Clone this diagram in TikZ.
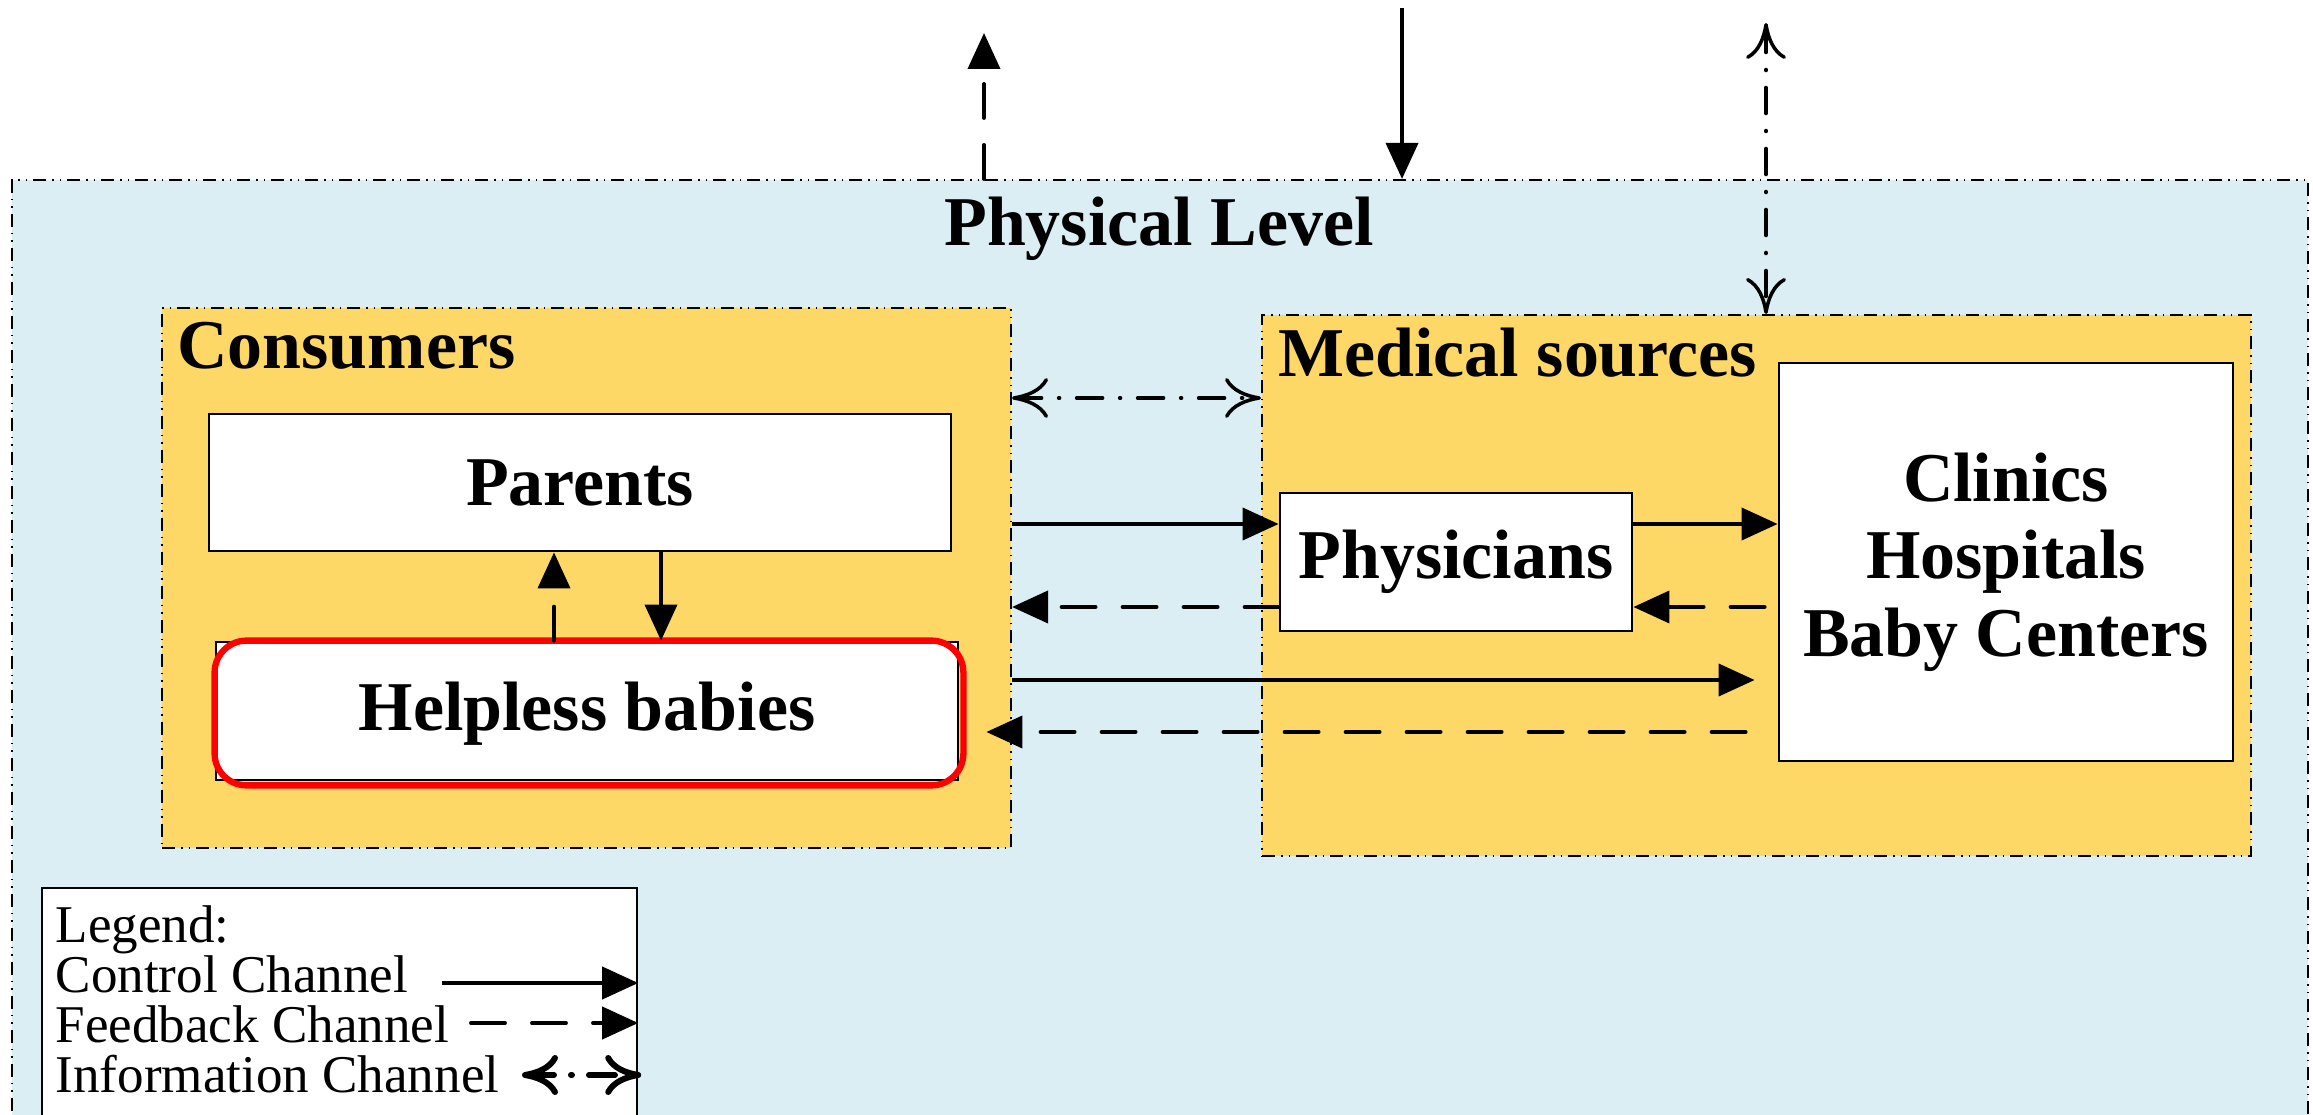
\documentclass[tikz,border=0pt]{standalone}
\usepackage{fontspec}
\setmainfont{Liberation Serif}
\usepackage{tikz}
\usetikzlibrary{arrows.meta,positioning,calc}

\definecolor{physblue}{RGB}{219,238,244}
\definecolor{groupgold}{RGB}{253,216,102}

\newcommand{\bigbold}{\fontsize{19.9pt}{20.5pt}\selectfont\bfseries}
\newcommand{\legendfont}{\fontsize{15.1pt}{14.2pt}\selectfont}

\tikzset{
  dashdotdot/.style={dash pattern=on 0.13cm off 0.06cm on 0.015cm off 0.06cm on 0.015cm off 0.06cm},
  levelbox/.style={draw, fill=physblue, line width=0.6pt, dashdotdot, inner sep=0pt},
  groupbox/.style={draw, fill=groupgold, line width=0.6pt, dashdotdot, inner sep=0pt},
  actor/.style={draw, fill=white, line width=0.8pt, inner sep=0pt, font=\bigbold},
  ctrl/.style={line width=1.1pt, -{Triangle[length=0.36cm,width=0.32cm]}},
  fback/.style={ctrl, line cap=round, dash pattern=on 0.34cm off 0.27cm},
  infoch/.style={line width=1pt, line cap=round, dash pattern=on 0.26cm off 0.17cm on 0.01cm off 0.17cm,
    {Computer Modern Rightarrow[length=0.36cm,width=0.4cm]}-{Computer Modern Rightarrow[length=0.36cm,width=0.4cm]}},
}

\begin{document}
\begin{tikzpicture}

\useasboundingbox (0,0) rectangle (23.13,11.14);

% levels and groups
\node[levelbox, minimum width=22.96cm, minimum height=9.84cm] (physical) at (11.60,4.42) {};
\node[font=\bigbold, anchor=base] (physlabel) at (11.59,8.68) {Physical Level};

\node[groupbox, minimum width=8.49cm, minimum height=5.40cm] (consumers) at (5.865,5.36) {};
\node[font=\bigbold, anchor=base west] (conslabel) at (1.65,7.45) {Consumers};

\node[groupbox, minimum width=9.89cm, minimum height=5.41cm] (medical) at (17.565,5.285) {};
\node[font=\bigbold, anchor=base west] (medlabel) at (12.66,7.37) {Medical sources};

% actors
\node[actor, minimum width=7.42cm, minimum height=1.37cm] (parents) at (5.80,6.315) {Parents};
\node[actor, minimum width=7.42cm, minimum height=1.38cm, text depth=0.1cm] (babies) at (5.87,4.03) {Helpless babies};
\draw[red, line width=1.8pt, rounded corners=0.32cm] ([yshift=-0.4mm]babies.south west) rectangle ([xshift=0.4mm]babies.north east);

\node[actor, minimum width=3.52cm, minimum height=1.38cm] (physicians) at (14.56,5.52) {Physicians};
\node[actor, minimum width=4.54cm, minimum height=3.98cm, align=center] (clinics) at (20.06,5.52) {Clinics\\[1.5pt]Hospitals\\[1.5pt]Baby Centers};

% rows of the channels
\coordinate (rowInfo) at (11,7.16);
\coordinate (rowCtrl) at (11,5.90);
\coordinate (rowFb) at (11,5.07);
\coordinate (rowCtrlB) at (11,4.34);
\coordinate (rowFbB) at (11,3.82);

\coordinate (upTip) at (9.84,10.81);
\coordinate (downTail) at (14.02,11.06);
\coordinate (infoTip) at (17.66,10.91);

% channels
\draw[fback] (upTip |- physical.north) -- (upTip);
\draw[ctrl] (downTail) -- (downTail |- physical.north);
\draw[infoch] (infoTip) -- (infoTip |- medical.north);

\draw[fback] ([xshift=-3.3mm]babies.north) -- ([xshift=-3.3mm]babies.north |- parents.south);
\draw[ctrl] ([xshift=7.4mm]babies.north |- parents.south) -- ([xshift=7.4mm]babies.north);

\draw[infoch] (consumers.east |- rowInfo) -- (medical.west |- rowInfo);
\draw[ctrl] (consumers.east |- rowCtrl) -- (physicians.west |- rowCtrl);
\draw[fback] (physicians.west |- rowFb) -- (consumers.east |- rowFb);
\draw[ctrl] (physicians.east |- rowCtrl) -- (clinics.west |- rowCtrl);
\draw[fback, shorten <=1.3mm] (clinics.west |- rowFb) -- (physicians.east |- rowFb);
\draw[ctrl, shorten >=2.3mm] (consumers.east |- rowCtrlB) -- (clinics.west |- rowCtrlB);
\draw[fback, shorten <=3.2mm, shorten >=2.7mm] (clinics.west |- rowFbB) -- (babies.east |- rowFbB);

% legend
\node[draw, fill=white, line width=0.7pt, minimum width=5.95cm, minimum height=2.76cm, inner sep=0pt] (legend) at (3.395,0.88) {};
\node[font=\legendfont, anchor=base west, inner sep=0pt] (lgTitle) at (0.55,1.72) {Legend:};
\node[font=\legendfont, anchor=base west, inner sep=0pt] (lgCtrlText) at (0.55,1.22) {Control Channel};
\node[font=\legendfont, anchor=base west, inner sep=0pt] (lgFbText) at (0.55,0.72) {Feedback Channel};
\node[font=\legendfont, anchor=base west, inner sep=0pt] (lgInfoText) at (0.55,0.22) {Information Channel};

\coordinate (lgCtrl) at (4.42,1.31);
\coordinate (lgFb) at (4.71,0.91);
\coordinate (lgInfo) at (5.22,0.39);

\draw[ctrl] (lgCtrl) -- (legend.east |- lgCtrl);
\draw[fback] (lgFb) -- (legend.east |- lgFb);
\draw[infoch, line width=1.7pt] (lgInfo) -- ([xshift=0.3mm]legend.east |- lgInfo);

\end{tikzpicture}
\end{document}
